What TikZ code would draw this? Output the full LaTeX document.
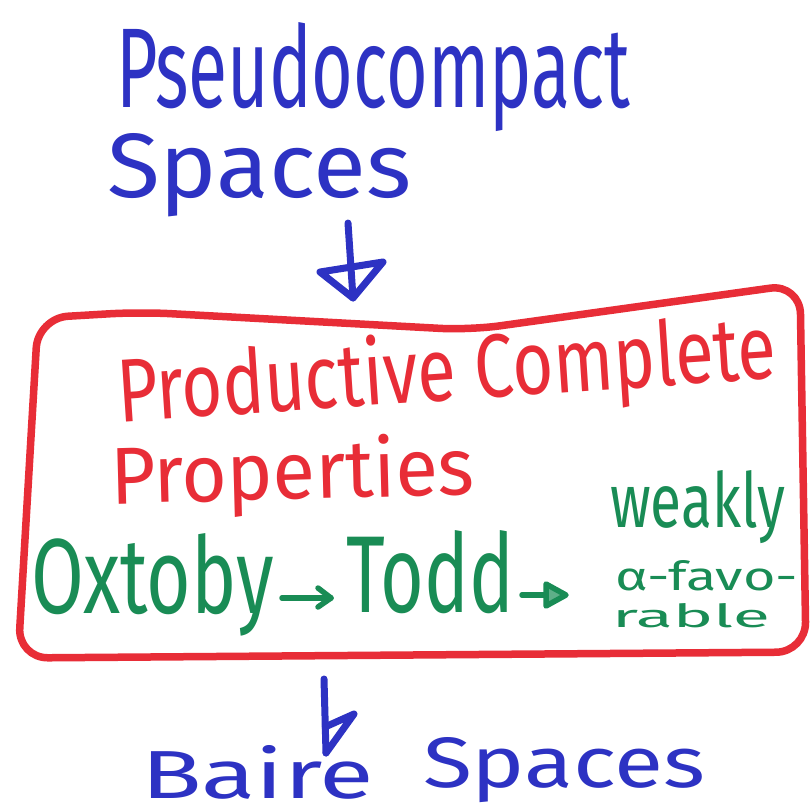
\documentclass[tikz,border=0pt]{standalone}
\usepackage{fontspec}
\setmainfont{Fira Sans}
\usetikzlibrary{arrows.meta}
\definecolor{mblue}{RGB}{45,50,195}
\definecolor{mred}{RGB}{232,45,55}
\definecolor{mgreen}{RGB}{25,140,85}
\newcommand{\hw}[3]{\resizebox{#1pt}{#2pt}{#3}}
\begin{document}
\begin{tikzpicture}[x=1pt,y=-1pt,
  txt/.style={inner sep=0pt, outer sep=0pt, anchor=base west},
  bluetxt/.style={txt,text=mblue},
  redtxt/.style={txt,text=mred},
  greentxt/.style={txt,text=mgreen},
  bline/.style={draw=mblue, line width=7pt, line cap=round, line join=round},
  gline/.style={draw=mgreen, line width=5.5pt, line cap=round, line join=round},
  framebox/.style={draw=mred, line width=7.5pt, rounded corners=30pt, line join=round}
]
\useasboundingbox[fill=white] (0,0) rectangle (810,812);

% top text
\node[bluetxt] (pc) at (116,107) {\hw{514}{85}{Pseudocompact}};
\node[bluetxt] (sp1) at (107,197) {\hw{304}{64}{Spaces}};

% red frame
\draw[framebox] (140,312) -- (470,330) -- (800,284) -- (806,652) -- (18,658) -- (38,318) -- cycle;
\coordinate (frametop) at (353,298);
\coordinate (framebot) at (324,679);

% red title
\node[redtxt, rotate=3.8] (pcp) at (119,422) {\hw{660}{70}{Productive Complete}};
\node[redtxt, rotate=1.5] (prop) at (111,504) {\hw{364}{63}{Properties}};

% green line
\node[greentxt] (ox) at (31,613) {\hw{243}{80}{Oxtoby}};
\node[greentxt] (todd) at (346,612) {\hw{168}{82}{Todd}};
\node[greentxt] (wk1) at (610,527) {\hw{175}{57}{weakly}};
\node[greentxt] (wk2) at (615,590) {\hw{183}{30}{α-favo-}};
\node[greentxt] (wk3) at (612,627) {\hw{158}{24}{rable}};

% green implication arrows
\coordinate (g1s) at (282,598);
\coordinate (g1e) at (331,598);
\coordinate (g2s) at (522,595);
\coordinate (g2e) at (566,595);
\draw[gline] (g1s) -- (g1e);
\draw[gline] ([shift={(-13,-10)}]g1e) -- (g1e) -- ([shift={(-13,9)}]g1e);
\draw[gline] (g2s) -- ([xshift=-16]g2e);
\draw[gline, fill=mgreen!70!white] ([shift={(-20,-11)}]g2e) -- (g2e) -- ([shift={(-20,11)}]g2e) -- cycle;

% bottom text
\node[bluetxt] (ba) at (141,798) {\hw{233}{53}{Baire}};
\node[bluetxt] (sp2) at (423,787) {\hw{282}{50}{Spaces}};

% vertical implication arrows
\coordinate (a1s) at (348,223);
\coordinate (a2e) at (326,753);
\draw[bline] (a1s) -- (frametop);
\draw[bline] (320,272) -- (383,262) -- (frametop) -- cycle;
\draw[bline] (framebot) -- (a2e);
\draw[bline] (325,727) -- (354,714) -- (a2e);
\end{tikzpicture}
\end{document}
